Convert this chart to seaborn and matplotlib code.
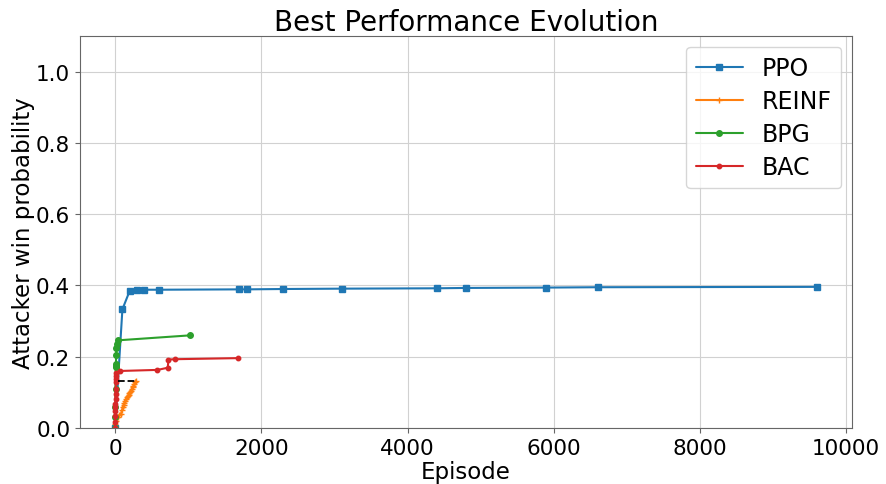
import numpy as np
import matplotlib
matplotlib.use("Agg")
import matplotlib.pyplot as plt
import seaborn as sns

# Best attacker win probability reached so far, per training episode
ppo_episode = [0, 100, 200, 300, 400, 600, 1700, 1800, 2300, 3100, 4400, 4800, 5900, 6600, 9600]
ppo_win = [0.0, 0.333, 0.385, 0.387, 0.388, 0.388, 0.389, 0.389, 0.390, 0.391, 0.392, 0.393, 0.394, 0.395, 0.396]

reinf_episode = [0, 5, 15, 35, 60, 80, 95, 105, 115, 125, 135, 150, 160, 175, 185,
                 195, 205, 215, 230, 240, 250, 265, 275, 285]
reinf_win = [0.0, 0.010, 0.020, 0.030, 0.036, 0.040, 0.050, 0.060, 0.065, 0.070, 0.076, 0.081,
             0.086, 0.090, 0.093, 0.097, 0.101, 0.105, 0.110, 0.114, 0.118, 0.123, 0.128, 0.133]

bpg_episode = [0, 2, 4, 6, 8, 10, 12, 15, 18, 22, 40, 1030]
bpg_win = [0.0, 0.03, 0.06, 0.11, 0.17, 0.175, 0.18, 0.205, 0.225, 0.235, 0.246, 0.260]

bac_episode = [0, 1, 2, 3, 4, 5, 6, 7, 8, 9, 10, 12, 15, 70, 580, 720, 730, 820, 1680]
bac_win = [0.0, 0.017, 0.035, 0.049, 0.059, 0.067, 0.081, 0.095, 0.109, 0.129, 0.137,
           0.147, 0.155, 0.160, 0.163, 0.169, 0.192, 0.193, 0.196]

series = [
    ("PPO", ppo_episode, ppo_win, "#1f77b4", "s", 4.0),
    ("REINF", reinf_episode, reinf_win, "#ff7f0e", "+", 4.0),
    ("BPG", bpg_episode, bpg_win, "#2ca02c", "o", 4.0),
    ("BAC", bac_episode, bac_win, "#d62728", "o", 3.2),
]

sns.set_style("whitegrid", {
    "axes.edgecolor": "0.4",
    "grid.color": "0.82",
    "xtick.bottom": True,
    "ytick.left": True,
    "text.color": "black",
    "axes.labelcolor": "black",
    "xtick.color": "black",
    "ytick.color": "black",
})
plt.rcParams["font.family"] = ["DejaVu Sans"]

fig, ax = plt.subplots(figsize=(8.86, 4.85), dpi=100)
fig.subplots_adjust(left=0.0903, right=0.9616, top=0.9237, bottom=0.1155)

for name, xs, ys, color, marker, ms in series:
    sns.lineplot(x=xs, y=ys, ax=ax, label=name, color=color, marker=marker,
                 markersize=ms, markeredgecolor=color, markeredgewidth=1.0,
                 linewidth=1.5, estimator=None, sort=False)

# dashed guide: episode at which PPO first reaches REINF's best value
reinf_best = max(reinf_win)
ppo_reach = float(np.interp(reinf_best, ppo_win, ppo_episode))
ax.hlines(reinf_best, ppo_reach, reinf_episode[-1], colors="black",
          linestyles="--", linewidth=1.3, zorder=5)

ax.set_ylim(0, 1.1)
ax.set_xticks([0, 2000, 4000, 6000, 8000, 10000])
ax.set_yticks([0.0, 0.2, 0.4, 0.6, 0.8, 1.0])
ax.tick_params(labelsize=15.5, length=3.5, width=0.8, color="0.4")
ax.set_xlabel("Episode", fontsize=16.5, labelpad=2)
ax.set_ylabel("Attacker win probability", fontsize=16.5, labelpad=1)
ax.set_title("Best Performance Evolution", fontsize=20, pad=4)
for sp in ax.spines.values():
    sp.set_linewidth(0.8)

leg = ax.legend(loc="upper right", fontsize=17, frameon=True, framealpha=0.8,
                borderpad=0.4, labelspacing=0.38, handlelength=2.0,
                borderaxespad=0.45)

fig.savefig("out.png", dpi=100)
